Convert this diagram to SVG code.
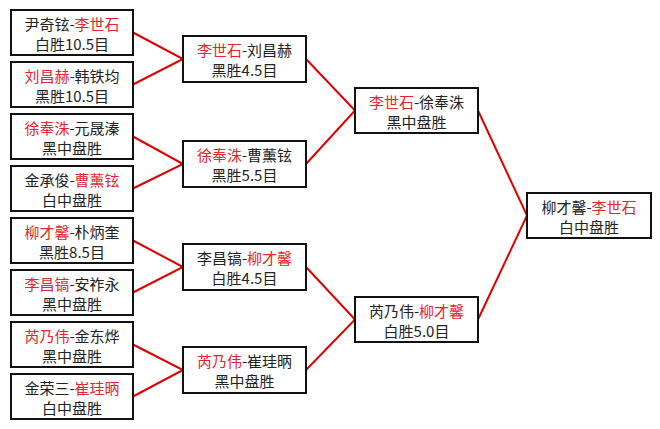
<svg xmlns="http://www.w3.org/2000/svg" width="660" height="429" viewBox="0 0 660 429">
<style>
.b{fill:#fff;stroke:#111;stroke-width:2}
.t{font-family:"Noto Sans CJK SC","Liberation Sans",sans-serif;font-size:15px;fill:#222;text-anchor:middle}
.r{fill:#e3262e}
.c{stroke:#e00000;stroke-width:2;fill:none}
</style>
<rect width="660" height="429" fill="#fff"/>
<g id="connectors">
<path class="c" d="M133,32.5 L183,59 L133,84.5"/>
<path class="c" d="M133,136.5 L183,164 L133,188.5"/>
<path class="c" d="M133,240.5 L183,267 L133,292.5"/>
<path class="c" d="M133,344.5 L183,370 L133,396.5"/>
<path class="c" d="M306,59 L355,110.5 L306,164"/>
<path class="c" d="M306,267 L355,319.5 L306,370"/>
<path class="c" d="M478,110.5 L527,215.5 L478,319.5"/>
</g>
<g id="n1"><rect class="b" x="11" y="10" width="122" height="45"/><text class="t" x="72" y="30">尹奇铉-<tspan class="r">李世石</tspan></text><text class="t" x="72" y="50">白胜10.5目</text></g>
<g id="n2"><rect class="b" x="11" y="62" width="122" height="45"/><text class="t" x="72" y="82"><tspan class="r">刘昌赫</tspan>-韩铁均</text><text class="t" x="72" y="102">黑胜10.5目</text></g>
<g id="n3"><rect class="b" x="11" y="114" width="122" height="45"/><text class="t" x="72" y="134"><tspan class="r">徐奉洙</tspan>-元晟溱</text><text class="t" x="72" y="154">黑中盘胜</text></g>
<g id="n4"><rect class="b" x="11" y="166" width="122" height="45"/><text class="t" x="72" y="186">金承俊-<tspan class="r">曹薰铉</tspan></text><text class="t" x="72" y="206">白中盘胜</text></g>
<g id="n5"><rect class="b" x="11" y="218" width="122" height="45"/><text class="t" x="72" y="238"><tspan class="r">柳才馨</tspan>-朴炳奎</text><text class="t" x="72" y="258">黑胜8.5目</text></g>
<g id="n6"><rect class="b" x="11" y="270" width="122" height="45"/><text class="t" x="72" y="290"><tspan class="r">李昌镐</tspan>-安祚永</text><text class="t" x="72" y="310">黑中盘胜</text></g>
<g id="n7"><rect class="b" x="11" y="322" width="122" height="45"/><text class="t" x="72" y="342"><tspan class="r">芮乃伟</tspan>-金东烨</text><text class="t" x="72" y="362">黑中盘胜</text></g>
<g id="n8"><rect class="b" x="11" y="374" width="122" height="45"/><text class="t" x="72" y="394">金荣三-<tspan class="r">崔珪昞</tspan></text><text class="t" x="72" y="414">白中盘胜</text></g>
<g id="m1"><rect class="b" x="183" y="36" width="123" height="46"/><text class="t" x="244.5" y="56"><tspan class="r">李世石</tspan>-刘昌赫</text><text class="t" x="244.5" y="76">黑胜4.5目</text></g>
<g id="m2"><rect class="b" x="183" y="141" width="123" height="46"/><text class="t" x="244.5" y="161"><tspan class="r">徐奉洙</tspan>-曹薰铉</text><text class="t" x="244.5" y="181">黑胜5.5目</text></g>
<g id="m3"><rect class="b" x="183" y="244" width="123" height="46"/><text class="t" x="244.5" y="264">李昌镐-<tspan class="r">柳才馨</tspan></text><text class="t" x="244.5" y="284">白胜4.5目</text></g>
<g id="m4"><rect class="b" x="183" y="347" width="123" height="46"/><text class="t" x="244.5" y="367"><tspan class="r">芮乃伟</tspan>-崔珪昞</text><text class="t" x="244.5" y="387">黑中盘胜</text></g>
<g id="s1"><rect class="b" x="355" y="88" width="123" height="45"/><text class="t" x="416.5" y="108"><tspan class="r">李世石</tspan>-徐奉洙</text><text class="t" x="416.5" y="128">黑中盘胜</text></g>
<g id="s2"><rect class="b" x="355" y="297" width="123" height="45"/><text class="t" x="416.5" y="317">芮乃伟-<tspan class="r">柳才馨</tspan></text><text class="t" x="416.5" y="337">白胜5.0目</text></g>
<g id="f"><rect class="b" x="527" y="193" width="124" height="45"/><text class="t" x="589" y="213">柳才馨-<tspan class="r">李世石</tspan></text><text class="t" x="589" y="233">白中盘胜</text></g>
</svg>
